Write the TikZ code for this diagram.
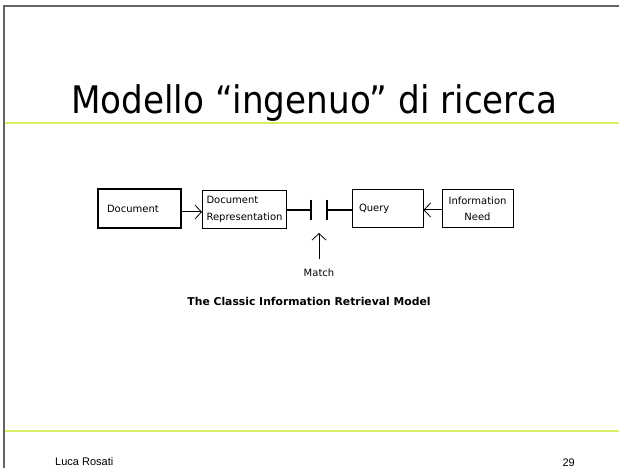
\documentclass[tikz,border=0pt]{standalone}
\usepackage{fontspec}
\setmainfont{DejaVu Sans}
\newfontfamily\libsans{Liberation Sans}
\usetikzlibrary{arrows.meta}
\definecolor{framegray}{RGB}{100,100,100}
\definecolor{limeline}{RGB}{214,240,100}
\tikzset{
  framestroke/.style={draw=framegray, line width=2pt},
  rulestroke/.style={draw=limeline, line width=2pt},
  boxthick/.style={draw=black, line width=1.6pt, minimum width=83pt, minimum height=39pt, font=\fontsize{10}{16.5}\selectfont},
  boxthin/.style={draw=black, line width=1pt, minimum height=38pt, font=\fontsize{10}{16.5}\selectfont},
  barb/.style={-{Straight Barb[length=6.5pt,width=14pt,line width=0.8pt]}, line width=1pt},
  matchline/.style={line width=1.4pt},
}
\begin{document}
\begin{tikzpicture}[x=1pt,y=-1pt]
\useasboundingbox (0,0) rectangle (619,468);
% frame and rules
\draw[framestroke] (3.5,468) -- (3.5,6.5) -- (619,6.5);
\draw[rulestroke] (4.5,123) -- (619,123);
\draw[rulestroke] (4.5,431) -- (619,431);
% title
\node[anchor=base, inner sep=0pt, font=\fontsize{38}{40}\selectfont, xscale=0.9] (title) at (314,114) {Modello “ingenuo” di ricerca};
% boxes
\node[boxthick, text width=65pt, align=left, inner xsep=9pt, text depth=-2pt] (doc) at (139.5,208.5) {Document};
\node[boxthin, minimum width=83pt, text width=76pt, align=left, inner xsep=4pt] (rep) at (244.5,209.5) {Document\\Representation};
\node[boxthin, minimum width=71pt, text width=57pt, align=left, inner xsep=7pt] (query) at (387.5,209) {Query};
\node[boxthin, minimum width=71pt, text width=62pt, align=center, inner xsep=4.5pt] (info) at (477.5,209) {Information\\Need};
% match
\coordinate (m1) at (311,210);
\coordinate (m2) at (327,210);
\coordinate (mtip) at (319,233);
\node[inner sep=1pt, font=\fontsize{10}{11}\selectfont] (match) at (319,273) {Match};
% connectors
\draw[barb] (doc.east |- 0,212) -- (rep.west |- 0,212);
\draw[matchline] (rep.east |- m1) -- (m1);
\draw[matchline] ([yshift=10pt]m1) -- ([yshift=-10pt]m1);
\draw[matchline] ([yshift=10pt]m2) -- ([yshift=-10pt]m2);
\draw[matchline] (query.west |- m2) -- (m2);
\draw[barb] (info.west |- 0,210) -- (query.east |- 0,210);
\draw[barb] ([yshift=9pt]match.north) -- (mtip);
% caption
\node[anchor=base, inner sep=0pt, font=\bfseries\fontsize{10.8}{12}\selectfont] (caption) at (309,305) {The Classic Information Retrieval Model};
% footer
\node[anchor=base west, inner sep=0pt, font=\libsans\fontsize{11}{13}\selectfont] (author) at (55,465) {Luca Rosati};
\node[anchor=base east, inner sep=0pt, font=\libsans\fontsize{11}{13}\selectfont] (page) at (575,466) {29};
\end{tikzpicture}
\end{document}
